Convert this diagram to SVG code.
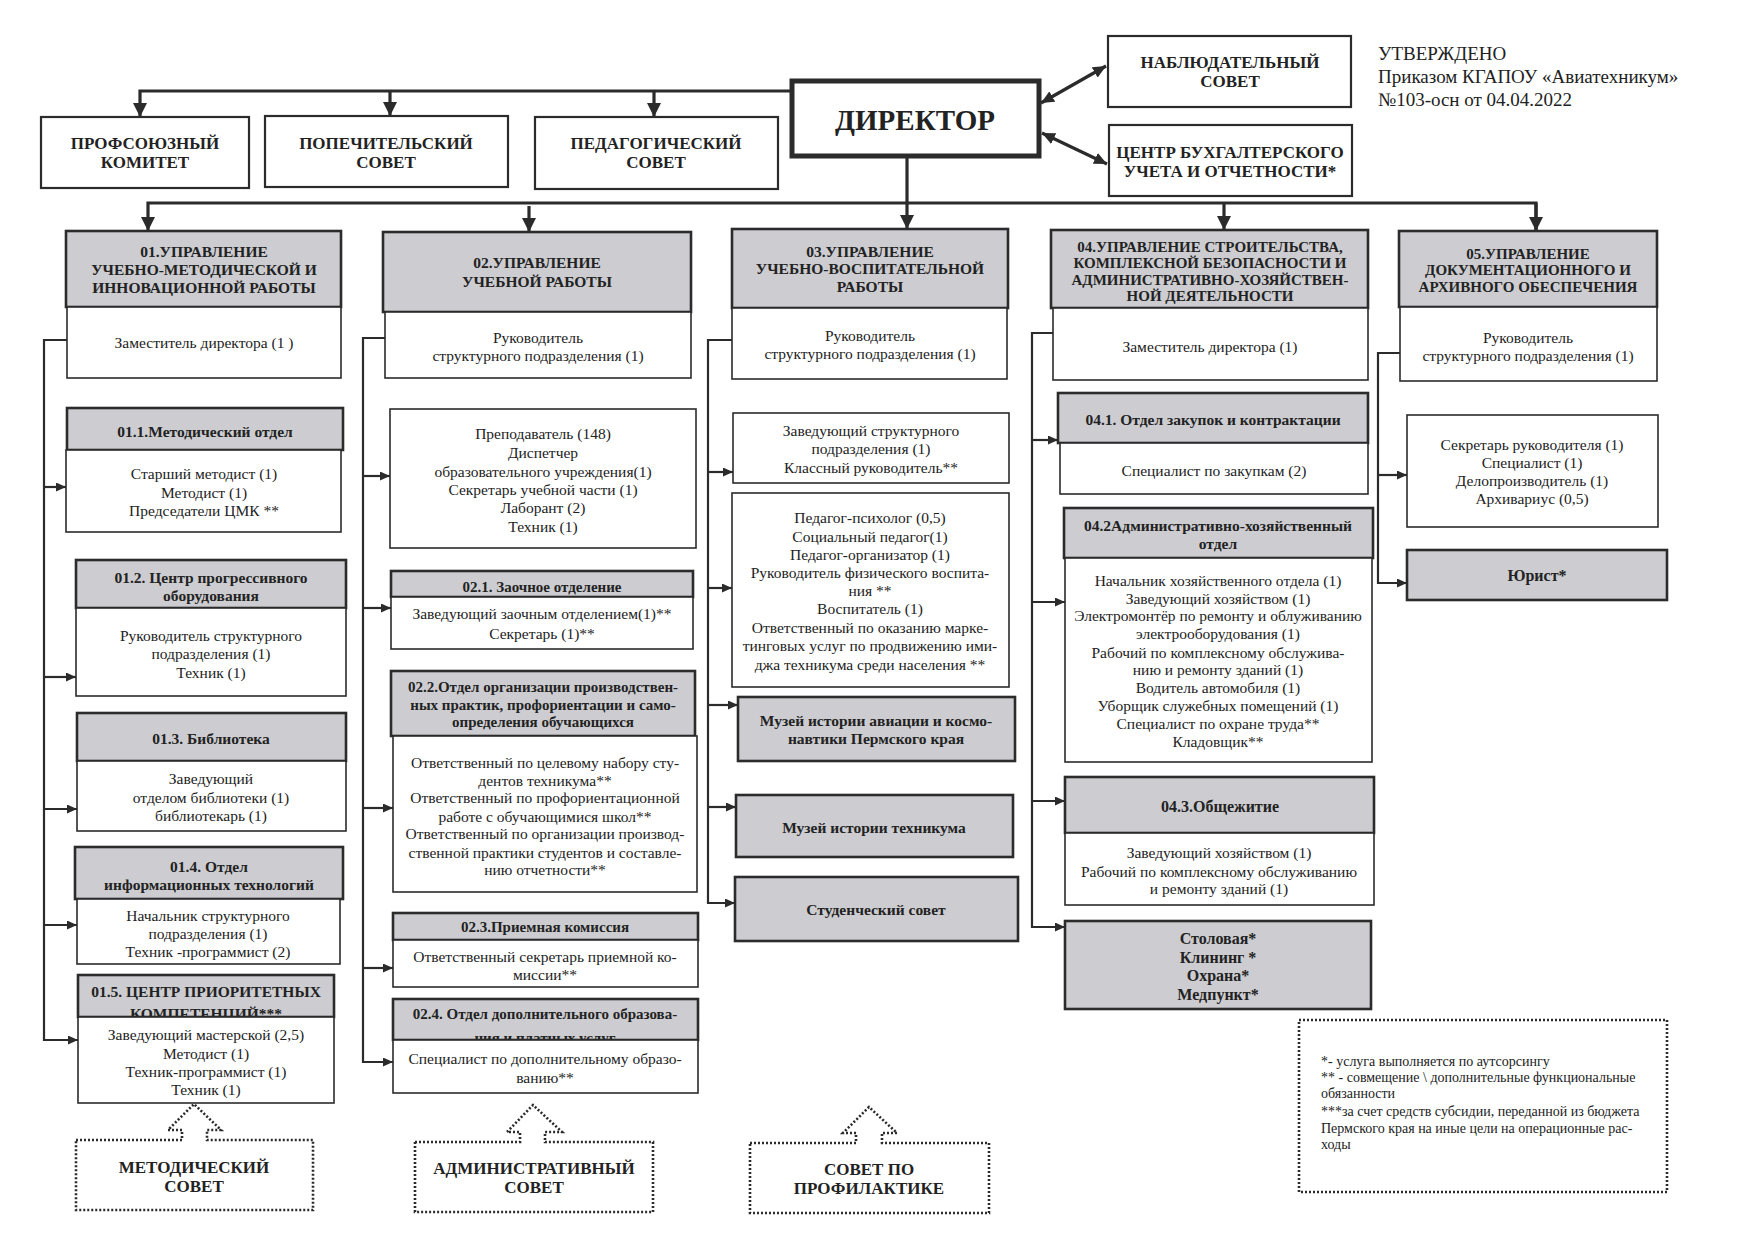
<svg xmlns="http://www.w3.org/2000/svg" width="1753" height="1240" viewBox="0 0 1753 1240">
<defs>
<style>
.hdr{fill:#cdcdd1;stroke:#2b2b2b;stroke-width:2.6}
.box{fill:#fff;stroke:#2b2b2b;stroke-width:1.6}
.top{fill:#fff;stroke:#2b2b2b;stroke-width:2.2}
.dir{fill:#fff;stroke:#2b2b2b;stroke-width:5}
.t{font-family:"Liberation Serif","Times New Roman",serif;font-size:15.5px;fill:#222;text-anchor:middle}
.b{font-weight:bold}
.big{font-size:17px;font-weight:bold}
.lg{font-family:"Liberation Serif","Times New Roman",serif;font-size:14px;fill:#222}
.ap{font-family:"Liberation Serif","Times New Roman",serif;font-size:19px;fill:#222}
.ln{stroke:#2b2b2b;stroke-width:2.2;fill:none}
.thk{stroke:#2b2b2b;stroke-width:3.2;fill:none}
.dot{fill:#fff;stroke:#2b2b2b;stroke-width:2.6;stroke-dasharray:2 2}
</style>
<marker id="a" markerUnits="userSpaceOnUse" markerWidth="10" markerHeight="9" refX="10" refY="4.5" orient="auto"><path d="M0,0 L10,4.5 L0,9 z" fill="#2b2b2b"/></marker>
<marker id="A" markerUnits="userSpaceOnUse" markerWidth="14" markerHeight="14" refX="14" refY="7" orient="auto"><path d="M0,0 L14,7 L0,14 z" fill="#2b2b2b"/></marker>
<marker id="D" markerUnits="userSpaceOnUse" markerWidth="13" markerHeight="12" refX="13" refY="6" orient="auto-start-reverse"><path d="M0,0 L13,6 L0,12 z" fill="#2b2b2b"/></marker>
</defs>
<rect width="1753" height="1240" fill="#fff"/>

<g id="connectors">
<path class="thk" d="M792,91 H140 V117" marker-end="url(#A)"/>
<path class="thk" d="M390,91 V116" marker-end="url(#A)"/>
<path class="thk" d="M654,91 V117" marker-end="url(#A)"/>
<path class="thk" d="M907,156 V229" marker-end="url(#A)"/>
<path class="thk" d="M1536,230 V203 H148 V231" marker-end="url(#A)"/>
<path class="thk" d="M1536,203 V231" marker-end="url(#A)"/>
<path class="thk" d="M529,206 V232" marker-end="url(#A)"/>
<path class="thk" d="M1224,203 V230" marker-end="url(#A)"/>
<path class="thk" d="M1041,103 L1106,66" marker-start="url(#D)" marker-end="url(#D)"/>
<path class="thk" d="M1042,133 L1107,164" marker-start="url(#D)" marker-end="url(#D)"/>
<!-- col 01 -->
<path class="ln" d="M67,340 H44 V1040 H78" marker-end="url(#a)"/>
<path class="ln" d="M44,487 H66" marker-end="url(#a)"/>
<path class="ln" d="M44,677 H76" marker-end="url(#a)"/>
<path class="ln" d="M44,809 H77" marker-end="url(#a)"/>
<path class="ln" d="M44,925 H77" marker-end="url(#a)"/>
<!-- col 02 -->
<path class="ln" d="M385,338 H363 V1062 H393" marker-end="url(#a)"/>
<path class="ln" d="M363,476 H390" marker-end="url(#a)"/>
<path class="ln" d="M363,608 H391" marker-end="url(#a)"/>
<path class="ln" d="M363,808 H393" marker-end="url(#a)"/>
<path class="ln" d="M363,968 H393" marker-end="url(#a)"/>
<!-- col 03 -->
<path class="ln" d="M732,340 H708 V903 H735" marker-end="url(#a)"/>
<path class="ln" d="M708,472 H733" marker-end="url(#a)"/>
<path class="ln" d="M708,588 H732" marker-end="url(#a)"/>
<path class="ln" d="M708,705 H738" marker-end="url(#a)"/>
<path class="ln" d="M708,807 H736" marker-end="url(#a)"/>
<!-- col 04 -->
<path class="ln" d="M1053,333 H1032 V927 H1065" marker-end="url(#a)"/>
<path class="ln" d="M1032,440 H1058" marker-end="url(#a)"/>
<path class="ln" d="M1032,602 H1065" marker-end="url(#a)"/>
<path class="ln" d="M1032,801 H1065" marker-end="url(#a)"/>
<!-- col 05 -->
<path class="ln" d="M1400,353 H1378 V583 H1407" marker-end="url(#a)"/>
<path class="ln" d="M1378,475 H1407" marker-end="url(#a)"/>
</g>

<g id="n-profkom"><rect class="top" x="41" y="117" width="208" height="71"/><text class="t big" x="145" y="149">ПРОФСОЮЗНЫЙ</text><text class="t big" x="145" y="168">КОМИТЕТ</text></g>
<g id="n-popech"><rect class="top" x="265" y="116" width="243" height="71"/><text class="t big" x="386" y="149">ПОПЕЧИТЕЛЬСКИЙ</text><text class="t big" x="386" y="168">СОВЕТ</text></g>
<g id="n-pedsovet"><rect class="top" x="535" y="117" width="243" height="72"/><text class="t big" x="656" y="149">ПЕДАГОГИЧЕСКИЙ</text><text class="t big" x="656" y="168">СОВЕТ</text></g>
<g id="n-director"><rect class="dir" x="792" y="81" width="247" height="75"/><text class="t b" style="font-size:29px" x="915" y="130">ДИРЕКТОР</text></g>
<g id="n-nabl"><rect class="top" x="1108" y="36" width="243" height="71"/><text class="t big" x="1230" y="68">НАБЛЮДАТЕЛЬНЫЙ</text><text class="t big" x="1230" y="87">СОВЕТ</text></g>
<g id="n-buh"><rect class="top" x="1109" y="125" width="243" height="71"/><text class="t big" x="1230" y="158">ЦЕНТР БУХГАЛТЕРСКОГО</text><text class="t big" x="1230" y="177">УЧЕТА И ОТЧЕТНОСТИ*</text></g>
<g id="n-approved"><text class="ap" x="1378" y="60">УТВЕРЖДЕНО</text><text class="ap" x="1378" y="83">Приказом КГАПОУ «Авиатехникум»</text><text class="ap" x="1378" y="106">№103-осн от 04.04.2022</text></g>

<!-- column 01 -->
<g id="n-01"><rect class="hdr" x="66" y="231" width="275" height="76"/><text class="t b" x="204" y="257">01.УПРАВЛЕНИЕ</text><text class="t b" x="204" y="275">УЧЕБНО-МЕТОДИЧЕСКОЙ И</text><text class="t b" x="204" y="293">ИННОВАЦИОННОЙ  РАБОТЫ</text></g>
<g id="n-01-body"><rect class="box" x="67" y="307" width="274" height="71"/><text class="t" x="204" y="347.5">Заместитель директора (1 )</text></g>
<g id="n-01-1"><rect class="hdr" x="67" y="408" width="276" height="42"/><text class="t b" x="205" y="436.5">01.1.Методический отдел</text>
<rect class="box" x="66" y="450" width="275" height="82"/><text class="t" x="204" y="478.5">Старший методист (1)</text><text class="t" x="204" y="497.5">Методист (1)</text><text class="t" x="204" y="515.5">Председатели ЦМК **</text></g>
<g id="n-01-2"><rect class="hdr" x="76" y="560" width="270" height="48"/><text class="t b" x="211" y="582.5">01.2. Центр прогрессивного</text><text class="t b" x="211" y="600.5">оборудования</text>
<rect class="box" x="76" y="608" width="270" height="88"/><text class="t" x="211" y="640.5">Руководитель структурного</text><text class="t" x="211" y="658.5">подразделения  (1)</text><text class="t" x="211" y="677.5">Техник  (1)</text></g>
<g id="n-01-3"><rect class="hdr" x="77" y="713" width="269" height="48"/><text class="t b" x="211" y="743.5">01.3. Библиотека</text>
<rect class="box" x="77" y="761" width="269" height="70"/><text class="t" x="211" y="783.5">Заведующий</text><text class="t" x="211" y="802.5">отделом библиотеки (1)</text><text class="t" x="211" y="820.5">библиотекарь  (1)</text></g>
<g id="n-01-4"><rect class="hdr" x="75" y="847" width="268" height="52"/><text class="t b" x="209" y="871.5">01.4. Отдел</text><text class="t b" x="209" y="889.5">информационных технологий</text>
<rect class="box" x="77" y="899" width="263" height="65"/><text class="t" x="208" y="920.5">Начальник структурного</text><text class="t" x="208" y="938.5">подразделения (1)</text><text class="t" x="208" y="956.5">Техник -программист (2)</text></g>
<g id="n-01-5"><rect class="hdr" x="78" y="975" width="256" height="42"/><text class="t b" x="206" y="996.5">01.5. ЦЕНТР ПРИОРИТЕТНЫХ</text><text class="t b" x="206" y="1019">КОМПЕТЕНЦИЙ***</text>
<rect class="box" x="78" y="1017" width="256" height="86"/><text class="t" x="206" y="1039.5">Заведующий мастерской (2,5)</text><text class="t" x="206" y="1058.5">Методист (1)</text><text class="t" x="206" y="1076.5">Техник-программист (1)</text><text class="t" x="206" y="1094.5">Техник (1)</text></g>
<g id="n-metsovet"><path class="dot" d="M76,1140 H182 V1130 H168 L194,1104 L221,1130 H207 V1140 H313 V1210 H76 Z"/><text class="t big" x="194" y="1173">МЕТОДИЧЕСКИЙ</text><text class="t big" x="194" y="1192">СОВЕТ</text></g>

<!-- column 02 -->
<g id="n-02"><rect class="hdr" x="383" y="232" width="308" height="80"/><text class="t b" x="537" y="268">02.УПРАВЛЕНИЕ</text><text class="t b" x="537" y="287">УЧЕБНОЙ РАБОТЫ</text></g>
<g id="n-02-body"><rect class="box" x="385" y="312" width="306" height="66"/><text class="t" x="538" y="342.5">Руководитель</text><text class="t" x="538" y="360.5">структурного подразделения  (1)</text></g>
<g id="n-02-staff"><rect class="box" x="390" y="409" width="306" height="139"/><text class="t" x="543" y="438.5">Преподаватель (148)</text><text class="t" x="543" y="457.5">Диспетчер</text><text class="t" x="543" y="476.5">образовательного учреждения(1)</text><text class="t" x="543" y="494.5">Секретарь учебной части (1)</text><text class="t" x="543" y="512.5">Лаборант (2)</text><text class="t" x="543" y="531.5">Техник (1)</text></g>
<g id="n-02-1"><rect class="hdr" x="391" y="571" width="302" height="26"/><text class="t b" x="542" y="592" style="font-size:15px">02.1. Заочное отделение</text>
<rect class="box" x="391" y="597" width="302" height="52"/><text class="t" x="542" y="618.5">Заведующий заочным отделением(1)**</text><text class="t" x="542" y="638.5">Секретарь  (1)**</text></g>
<g id="n-02-2"><rect class="hdr" x="391" y="671" width="304" height="65"/><text class="t b" x="543" y="692" style="font-size:15px">02.2.Отдел организации производствен-</text><text class="t b" x="543" y="710" style="font-size:15px">ных практик, профориентации и само-</text><text class="t b" x="543" y="727" style="font-size:15px">определения обучающихся</text>
<rect class="box" x="393" y="736" width="304" height="156"/><text class="t" x="545" y="767.5">Ответственный по целевому набору сту-</text><text class="t" x="545" y="785.5">дентов техникума**</text><text class="t" x="545" y="802.5">Ответственный по профориентационной</text><text class="t" x="545" y="821.5">работе с обучающимися школ**</text><text class="t" x="545" y="838.5">Ответственный по организации производ-</text><text class="t" x="545" y="857.5">ственной практики студентов и составле-</text><text class="t" x="545" y="874.5">нию отчетности**</text></g>
<g id="n-02-3"><rect class="hdr" x="393" y="913" width="305" height="27"/><text class="t b" x="545" y="932" style="font-size:15px">02.3.Приемная комиссия</text>
<rect class="box" x="393" y="940" width="305" height="47"/><text class="t" x="545" y="961.5">Ответственный секретарь приемной ко-</text><text class="t" x="545" y="979.5">миссии**</text></g>
<g id="n-02-4"><rect class="hdr" x="393" y="999" width="305" height="41"/><text class="t b" x="545" y="1019" style="font-size:15px">02.4. Отдел дополнительного образова-</text><text class="t b" x="545" y="1043" style="font-size:15px">ния и платных услуг</text>
<rect class="box" x="393" y="1040" width="305" height="53"/><text class="t" x="545" y="1063.5">Специалист по дополнительному образо-</text><text class="t" x="545" y="1082.5">ванию**</text></g>
<g id="n-admsovet"><path class="dot" d="M415,1142 H520 V1132 H507 L533,1105 L562,1132 H545 V1142 H653 V1212 H415 Z"/><text class="t big" x="534" y="1174">АДМИНИСТРАТИВНЫЙ</text><text class="t big" x="534" y="1193">СОВЕТ</text></g>

<!-- column 03 -->
<g id="n-03"><rect class="hdr" x="732" y="229" width="276" height="79"/><text class="t b" x="870" y="257">03.УПРАВЛЕНИЕ</text><text class="t b" x="870" y="274">УЧЕБНО-ВОСПИТАТЕЛЬНОЙ</text><text class="t b" x="870" y="292">РАБОТЫ</text></g>
<g id="n-03-body"><rect class="box" x="732" y="308" width="275" height="71"/><text class="t" x="870" y="340.5">Руководитель</text><text class="t" x="870" y="358.5">структурного подразделения  (1)</text></g>
<g id="n-03-zav"><rect class="box" x="733" y="413" width="276" height="70"/><text class="t" x="871" y="435.5">Заведующий структурного</text><text class="t" x="871" y="453.5">подразделения (1)</text><text class="t" x="871" y="472.5">Классный руководитель**</text></g>
<g id="n-03-ped"><rect class="box" x="732" y="493" width="277" height="194"/><text class="t" x="870" y="522.5">Педагог-психолог (0,5)</text><text class="t" x="870" y="541.5">Социальный педагог(1)</text><text class="t" x="870" y="559.5">Педагог-организатор (1)</text><text class="t" x="870" y="577.5">Руководитель физического воспита-</text><text class="t" x="870" y="595.5">ния **</text><text class="t" x="870" y="613.5">Воспитатель (1)</text><text class="t" x="870" y="632.5">Ответственный по оказанию марке-</text><text class="t" x="870" y="650.5">тинговых услуг по продвижению ими-</text><text class="t" x="870" y="669.5">джа техникума среди населения **</text></g>
<g id="n-03-museum1"><rect class="hdr" x="738" y="697" width="277" height="64"/><text class="t b" x="876" y="726">Музей истории авиации и космо-</text><text class="t b" x="876" y="744">навтики  Пермского края</text></g>
<g id="n-03-museum2"><rect class="hdr" x="736" y="795" width="277" height="62"/><text class="t b" x="874" y="833">Музей истории техникума</text></g>
<g id="n-03-stud"><rect class="hdr" x="735" y="877" width="283" height="64"/><text class="t b" x="876" y="915">Студенческий совет</text></g>
<g id="n-profsovet"><path class="dot" d="M750,1143 H856 V1133 H843 L869,1107 L897,1133 H882 V1143 H989 V1213 H750 Z"/><text class="t big" x="869" y="1175">СОВЕТ ПО</text><text class="t big" x="869" y="1194">ПРОФИЛАКТИКЕ</text></g>

<!-- column 04 -->
<g id="n-04"><rect class="hdr" x="1051" y="230" width="317" height="78"/><text class="t b" x="1210" y="252" style="font-size:15px">04.УПРАВЛЕНИЕ СТРОИТЕЛЬСТВА,</text><text class="t b" x="1210" y="268" style="font-size:15px">КОМПЛЕКСНОЙ БЕЗОПАСНОСТИ И</text><text class="t b" x="1210" y="285" style="font-size:15px">АДМИНИСТРАТИВНО-ХОЗЯЙСТВЕН-</text><text class="t b" x="1210" y="301" style="font-size:15px">НОЙ ДЕЯТЕЛЬНОСТИ</text></g>
<g id="n-04-body"><rect class="box" x="1053" y="308" width="315" height="72"/><text class="t" x="1210" y="351.5">Заместитель директора (1)</text></g>
<g id="n-04-1"><rect class="hdr" x="1058" y="393" width="310" height="50"/><text class="t b" x="1213" y="425">04.1. Отдел закупок и контрактации</text>
<rect class="box" x="1060" y="443" width="308" height="51"/><text class="t" x="1214" y="475.5">Специалист по закупкам (2)</text></g>
<g id="n-04-2"><rect class="hdr" x="1064" y="508" width="309" height="50"/><text class="t b" x="1218" y="531">04.2Административно-хозяйственный</text><text class="t b" x="1218" y="549">отдел</text>
<rect class="box" x="1065" y="558" width="307" height="204"/><text class="t" x="1218" y="585.5">Начальник хозяйственного отдела (1)</text><text class="t" x="1218" y="603.5">Заведующий хозяйством (1)</text><text class="t" x="1218" y="620.5">Электромонтёр по ремонту и облуживанию</text><text class="t" x="1218" y="638.5">электрооборудования  (1)</text><text class="t" x="1218" y="657.5">Рабочий по комплексному обслужива-</text><text class="t" x="1218" y="674.5">нию и ремонту зданий (1)</text><text class="t" x="1218" y="692.5">Водитель автомобиля  (1)</text><text class="t" x="1218" y="710.5">Уборщик служебных помещений (1)</text><text class="t" x="1218" y="728.5">Специалист по охране труда**</text><text class="t" x="1218" y="746.5">Кладовщик**</text></g>
<g id="n-04-3"><rect class="hdr" x="1065" y="777" width="309" height="56"/><text class="t b" x="1220" y="812" style="font-size:16px">04.3.Общежитие</text>
<rect class="box" x="1065" y="833" width="309" height="72"/><text class="t" x="1219" y="857.5">Заведующий хозяйством  (1)</text><text class="t" x="1219" y="876.5">Рабочий по комплексному обслуживанию</text><text class="t" x="1219" y="893.5">и ремонту зданий (1)</text></g>
<g id="n-04-out"><rect class="hdr" x="1065" y="921" width="306" height="88"/><text class="t b" x="1218" y="943.5" style="font-size:16px">Столовая*</text><text class="t b" x="1218" y="962.5" style="font-size:16px">Клининг *</text><text class="t b" x="1218" y="980.5" style="font-size:16px">Охрана*</text><text class="t b" x="1218" y="999.5" style="font-size:16px">Медпункт*</text></g>

<!-- column 05 -->
<g id="n-05"><rect class="hdr" x="1399" y="231" width="258" height="76"/><text class="t b" x="1528" y="259" style="font-size:15px">05.УПРАВЛЕНИЕ</text><text class="t b" x="1528" y="275" style="font-size:15px">ДОКУМЕНТАЦИОННОГО И</text><text class="t b" x="1528" y="292" style="font-size:15px">АРХИВНОГО ОБЕСПЕЧЕНИЯ</text></g>
<g id="n-05-body"><rect class="box" x="1400" y="307" width="257" height="74"/><text class="t" x="1528" y="342.5">Руководитель</text><text class="t" x="1528" y="360.5">структурного подразделения (1)</text></g>
<g id="n-05-staff"><rect class="box" x="1407" y="415" width="251" height="112"/><text class="t" x="1532" y="449.5">Секретарь руководителя (1)</text><text class="t" x="1532" y="467.5">Специалист (1)</text><text class="t" x="1532" y="485.5">Делопроизводитель (1)</text><text class="t" x="1532" y="503.5">Архивариус (0,5)</text></g>
<g id="n-05-jur"><rect class="hdr" x="1407" y="550" width="260" height="50"/><text class="t b" x="1537" y="581" style="font-size:16px">Юрист*</text></g>

<g id="n-legend"><rect class="dot" x="1299" y="1020" width="368" height="172"/>
<text class="lg" x="1321" y="1066">*- услуга выполняется по аутсорсингу</text>
<text class="lg" x="1321" y="1082">** - совмещение \ дополнительные функциональные</text>
<text class="lg" x="1321" y="1098">обязанности</text>
<text class="lg" x="1321" y="1116">***за счет средств субсидии, переданной из бюджета</text>
<text class="lg" x="1321" y="1133">Пермского края на иные цели на операционные  рас-</text>
<text class="lg" x="1321" y="1149">ходы</text></g>
</svg>
